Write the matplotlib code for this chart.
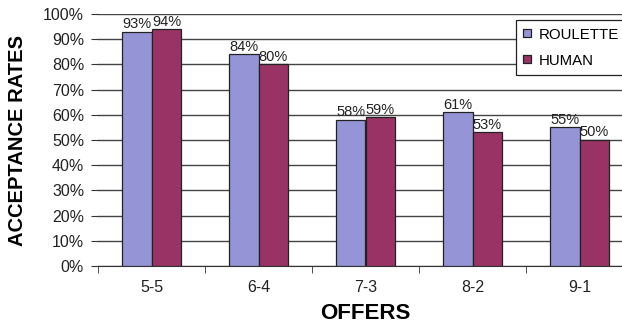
import matplotlib.pyplot as plt
import numpy as np

offers = ["5-5", "6-4", "7-3", "8-2", "9-1"]
roulette = [93, 84, 58, 61, 55]
human = [94, 80, 59, 53, 50]
y_ticks = [0, 10, 20, 30, 40, 50, 60, 70, 80, 90, 100]

plt.rcParams["font.family"] = ["Liberation Sans", "DejaVu Sans"]

fig = plt.figure(figsize=(6.22, 3.28), dpi=100)
ax = fig.add_axes([98 / 622, 62 / 328, 535 / 622, 252 / 328])

x = np.arange(len(offers))
width = 0.28
b1 = ax.bar(x - width / 2, roulette, width, color="#9494d6", edgecolor="#222222",
            linewidth=0.9, label="ROULETTE", zorder=3)
b2 = ax.bar(x + width / 2, human, width, color="#993366", edgecolor="#222222",
            linewidth=0.9, label="HUMAN", zorder=3)

for bars in (b1, b2):
    for rect in bars:
        h = rect.get_height()
        ax.text(rect.get_x() + rect.get_width() / 2, h + 0.2, f"{h}%",
                ha="center", va="bottom", fontsize=10.5, color="#222222", zorder=4)

ax.set_xlim(-0.5, len(offers) - 0.5)
ax.set_ylim(0, 100)
ax.set_yticks(y_ticks)
ax.set_yticklabels([f"{v}%" for v in y_ticks], fontsize=11.5, color="#222222")
ax.set_xticks(x)
ax.set_xticklabels(offers, fontsize=11.5, color="#222222")
ax.tick_params(axis="x", length=0, pad=10)
ax.set_xticks(np.arange(len(offers) + 1) - 0.5, minor=True)
ax.tick_params(axis="x", which="minor", length=5, direction="out", color="#333333")
ax.tick_params(axis="y", length=5, direction="out", color="#333333", pad=5)

ax.grid(axis="y", color="#444444", linewidth=1.0, zorder=0)
for side in ("top", "right", "left"):
    ax.spines[side].set_visible(False)
ax.spines["bottom"].set_color("#333333")

ax.set_xlabel("OFFERS", fontsize=16, fontweight="bold", labelpad=6)
ax.set_ylabel("ACCEPTANCE RATES", fontsize=14.5, fontweight="bold")
ax.yaxis.set_label_coords(-0.133, 0.5)

leg = ax.legend(loc="upper left", bbox_to_anchor=(0.781, 0.976), fontsize=10.8,
                frameon=True, fancybox=False, edgecolor="#222222", framealpha=1,
                handlelength=0.5, handleheight=0.5, handletextpad=0.5,
                borderpad=0.5, labelspacing=0.8, borderaxespad=0)
leg.get_frame().set_linewidth(0.9)

fig.savefig("out.png", dpi=100)
